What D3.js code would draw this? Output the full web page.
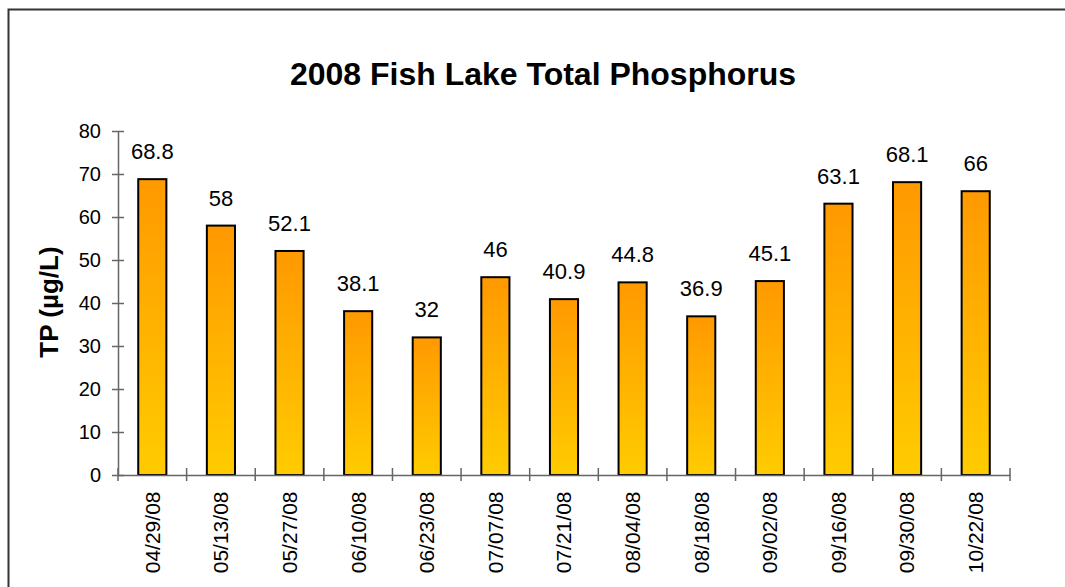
<!DOCTYPE html>
<html>
<head>
<meta charset="utf-8">
<script src="https://cdn.jsdelivr.net/npm/d3@7"></script>
<style>
  html, body { margin: 0; padding: 0; background: #fff; }
  svg { display: block; font-family: "Liberation Sans", Arial, sans-serif; }
</style>
</head>
<body>
<svg id="chart" width="1065" height="587"></svg>
<script>
const dates = ["04/29/08","05/13/08","05/27/08","06/10/08","06/23/08","07/07/08","07/21/08","08/04/08","08/18/08","09/02/08","09/16/08","09/30/08","10/22/08"];
const tpValues = [68.8, 58, 52.1, 38.1, 32, 46, 40.9, 44.8, 36.9, 45.1, 63.1, 68.1, 66];
const yTicks = [0, 10, 20, 30, 40, 50, 60, 70, 80];
const chartTitle = "2008 Fish Lake Total Phosphorus";
const yTitle = "TP (µg/L)";

const svg = d3.select("#chart");
const pLeft = 118, pRight = 1010, pTop = 131, pBottom = 475;

// frame
svg.append("path")
  .attr("d", "M8.5,600 L8.5,9.5 L1080,9.5")
  .attr("fill", "none").attr("stroke", "#333").attr("stroke-width", 2);

const defs = svg.append("defs");
const grad = defs.append("linearGradient").attr("id", "barGrad")
  .attr("x1", 0).attr("y1", 0).attr("x2", 0).attr("y2", 1);
grad.append("stop").attr("offset", "0%").attr("stop-color", "#FF9900");
grad.append("stop").attr("offset", "100%").attr("stop-color", "#FFCC00");

const x = d3.scaleBand().domain(dates).range([pLeft, pRight]).paddingInner(0.59).paddingOuter(0.295);
const xb = d3.scaleBand().domain(dates).range([pLeft, pRight]);
const y = d3.scaleLinear().domain([0, 80]).range([pBottom, pTop]);

// title
svg.append("text").attr("x", 543).attr("y", 85).attr("text-anchor", "middle")
  .attr("font-size", 32).attr("font-weight", "bold").attr("fill", "#000").text(chartTitle);

// y title
svg.append("text").attr("transform", `translate(58,302) rotate(-90)`).attr("text-anchor", "middle")
  .attr("font-size", 26).attr("font-weight", "bold").attr("fill", "#000").text(yTitle);

// bars
svg.append("g").selectAll("rect").data(tpValues).join("rect")
  .attr("x", (d, i) => x(dates[i]))
  .attr("width", x.bandwidth())
  .attr("y", d => y(d))
  .attr("height", d => pBottom - y(d))
  .attr("fill", "url(#barGrad)")
  .attr("stroke", "#000").attr("stroke-width", 2);

// data labels
svg.append("g").selectAll("text").data(tpValues).join("text")
  .attr("x", (d, i) => xb(dates[i]) + xb.bandwidth() / 2)
  .attr("y", d => y(d) - 20)
  .attr("text-anchor", "middle").attr("font-size", 22).attr("fill", "#000")
  .text(d => d);

// y axis
const yAxis = d3.axisLeft(y).tickValues(yTicks).tickSize(6).tickSizeOuter(0);
const gy = svg.append("g").attr("transform", `translate(${pLeft},0)`).call(yAxis);
gy.select(".domain").attr("stroke", "#666").attr("stroke-width", 1.5);
gy.selectAll(".tick line").attr("x2", 6).attr("x1", -6).attr("stroke", "#666").attr("stroke-width", 1.5);
gy.selectAll(".tick text").attr("font-size", 20).attr("fill", "#000").attr("font-family", "Liberation Sans, Arial, sans-serif").attr("x", -17);

// x axis
const xAxis = d3.axisBottom(xb).tickSize(0).tickSizeOuter(0);
const gx = svg.append("g").attr("transform", `translate(0,${pBottom})`).call(xAxis);
gx.select(".domain").attr("stroke", "#666").attr("stroke-width", 1.5);
gx.selectAll(".tick text")
  .attr("font-size", 21).attr("fill", "#000").attr("font-family", "Liberation Sans, Arial, sans-serif")
  .attr("text-anchor", "end").attr("dy", "0.35em")
  .attr("transform", "translate(0,16.5) rotate(-90)").attr("x", 0).attr("y", 0);
// category separator ticks
const sepPos = d3.range(dates.length + 1).map(i => pLeft + i * xb.step());
gx.append("g").selectAll("line").data(sepPos).join("line")
  .attr("x1", d => d).attr("x2", d => d).attr("y1", -7).attr("y2", 6)
  .attr("stroke", "#666").attr("stroke-width", 1.5);
</script>
</body>
</html>
